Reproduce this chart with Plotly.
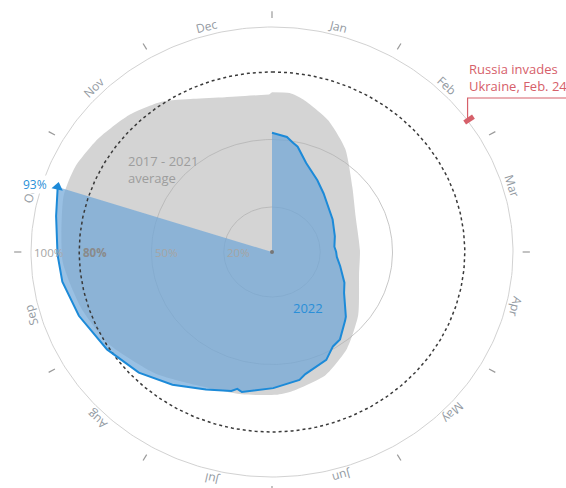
import numpy as np
import plotly.graph_objects as go

# ---------------- data ----------------
# 2017-2021 average EU gas storage fill (%), by day of year (0 = Jan 1)
AVG_DAYS = [0, 6, 11, 22, 34, 50, 67, 90, 107, 130, 146, 160, 175, 181, 194, 211,
            225, 242, 256, 271, 290, 299, 309, 320, 330, 339, 349, 364]
AVG_PCT = [71, 71, 69, 63, 55, 44, 38, 36.5, 37.5, 45.5, 53, 59, 62.5, 63.5, 64.5, 67,
           72.5, 79, 83, 87, 90, 90, 88, 85, 81, 75.5, 71.5, 70]

# 2022 EU gas storage fill (%)
Y22_DAYS = [0, 7, 10, 13, 20, 31, 40, 47, 61, 76, 86, 91, 96, 104, 116, 123, 135,
            137, 146, 151, 157, 168, 171, 182, 194, 196, 198, 207, 218, 229, 241,
            254, 265, 273, 284, 292]
Y22_PCT = [53, 51.5, 49.5, 48, 42, 37, 33.7, 31.5, 29, 27, 26, 26.6, 27, 29, 33, 35, 42,
           43, 48, 49, 53, 56, 58, 60.5, 63.5, 62.5, 64, 67, 72, 77, 81,
           85, 88, 89, 91, 93.5]

MONTHS = ["Jan", "Feb", "Mar", "Apr", "May", "Jun", "Jul", "Aug", "Sep", "Oct", "Nov", "Dec"]
MONTH_LEN = [31, 28, 31, 30, 31, 30, 31, 31, 30, 31, 30, 31]
TICK_ANGLES = [0, 30, 60, 90, 120, 150, 180, 210, 240, 270, 300, 330]
RING_PCTS = [20, 50, 100]
RING_LABELS = ["20%", "50%", "100%"]
TARGET_PCT = 80
TARGET_LABEL = "80%"
INVASION_DAY = 55
END_LABEL = "93%"

# ---------------- geometry helpers ----------------
PX_X, PX_Y = 241.0, 225.0   # pixels per unit radius (chart is slightly elliptical)
CX, CY = 272.0, 252.0
W, H = 566, 488


def xy(pct, day):
    th = np.deg2rad(np.asarray(day, dtype=float) / 365.0 * 360.0)
    r = np.asarray(pct, dtype=float) / 100.0
    return r * np.sin(th), r * np.cos(th)


def xy_deg(r, deg):
    th = np.deg2rad(np.asarray(deg, dtype=float))
    return r * np.sin(th), r * np.cos(th)


full = np.linspace(0, 360, 361)
fig = go.Figure()

# average (gray)
ax, ay = xy(AVG_PCT, AVG_DAYS)
fig.add_trace(go.Scatter(x=ax, y=ay, fill="toself", fillcolor="#d4d4d4",
                         line=dict(width=0, shape="spline", smoothing=0.6), mode="lines",
                         hoverinfo="skip"))

# rings
for p in RING_PCTS:
    rx, ry = xy_deg(p / 100.0, full)
    fig.add_trace(go.Scatter(x=rx, y=ry, mode="lines",
                             line=dict(color="rgba(175,175,175,0.7)" if p < 100 else "#d2d2d2", width=1),
                             hoverinfo="skip"))

# 2022 fill wedge
bx, by = xy(Y22_PCT, Y22_DAYS)
fig.add_trace(go.Scatter(x=np.concatenate([[0], bx, [0]]), y=np.concatenate([[0], by, [0]]),
                         fill="toself", fillcolor="rgba(110,165,215,0.7)",
                         line=dict(width=0), mode="lines", hoverinfo="skip"))

# target ring 80%
tx, ty = xy_deg(TARGET_PCT / 100.0, full)
fig.add_trace(go.Scatter(x=tx, y=ty, mode="lines",
                         line=dict(color="#3a3a3a", width=1.5, dash="dot"), hoverinfo="skip"))

# 2022 line
fig.add_trace(go.Scatter(x=bx, y=by, mode="lines", line=dict(color="#1c8ad8", width=2),
                         hoverinfo="skip"))
# arrow at end
fig.add_trace(go.Scatter(x=[bx[-1]], y=[by[-1]], mode="markers",
                         marker=dict(symbol="triangle-up", size=10, color="#1c8ad8", angle=12),
                         hoverinfo="skip"))

# ticks
tkx, tky = [], []
for a in TICK_ANGLES:
    x0, y0 = xy_deg(1.04, a)
    x1, y1 = xy_deg(1.07, a)
    tkx += [x0, x1, None]
    tky += [y0, y1, None]
fig.add_trace(go.Scatter(x=tkx, y=tky, mode="lines", line=dict(color="#9a9a9a", width=1.2),
                         hoverinfo="skip"))

# center dot
fig.add_trace(go.Scatter(x=[0], y=[0], mode="markers", marker=dict(size=4, color="#777777"),
                         hoverinfo="skip"))

# invasion marker
inv_deg = INVASION_DAY / 365.0 * 360.0
m0 = xy_deg(0.985, inv_deg)
m1 = xy_deg(1.03, inv_deg)
fig.add_trace(go.Scatter(x=[m0[0], m1[0]], y=[m0[1], m1[1]], mode="lines",
                         line=dict(color="#d6606a", width=5), hoverinfo="skip"))
mc = xy_deg(1.0, inv_deg)
lead_y = (CY - 98) / PX_Y
right_x = (W - CX) / PX_X
fig.add_trace(go.Scatter(x=[mc[0], mc[0], right_x], y=[mc[1], lead_y, lead_y], mode="lines",
                         line=dict(color="#d6606a", width=1.2), hoverinfo="skip"))

annotations = []
FONT = "Open Sans, Noto Sans, sans-serif"

# month labels
start = 0
for name, ln in zip(MONTHS, MONTH_LEN):
    mid = start + ln / 2.0
    start += ln
    deg = mid / 365.0 * 360.0
    th = np.deg2rad(deg)
    lx, ly = xy_deg(1.038, deg)
    ang = np.degrees(np.arctan2(PX_Y * np.sin(th), PX_X * np.cos(th)))
    annotations.append(dict(x=lx, y=ly, text=name, showarrow=False, textangle=ang,
                            font=dict(size=12, color="#939aa2", family=FONT),
                            xanchor="center", yanchor="middle", borderpad=0))

# ring labels
for p, lab in zip(RING_PCTS, RING_LABELS):
    annotations.append(dict(x=-p / 100.0, y=0, text=lab, showarrow=False, xanchor="left",
                            yanchor="middle", xshift=1,
                            font=dict(size=11.5, color="#a5a5a5", family=FONT)))
annotations.append(dict(x=-TARGET_PCT / 100.0, y=0, text="<b>" + TARGET_LABEL + "</b>",
                        showarrow=False, xanchor="left", yanchor="middle", xshift=2,
                        font=dict(size=11.5, color="#8a8a8a", family=FONT)))

# end label
annotations.append(dict(x=bx[-1], y=by[-1], text=END_LABEL, showarrow=False, xanchor="right",
                        yanchor="middle", xshift=-10, yshift=2, bgcolor="white", borderpad=0,
                        font=dict(size=12, color="#2a8fd8", family=FONT)))

# series labels
annotations.append(dict(x=(308 - CX) / PX_X, y=(CY - 308) / PX_Y, text="2022", showarrow=False,
                        font=dict(size=13, color="#2a8fd8", family=FONT)))
annotations.append(dict(x=(126 - CX) / PX_X, y=(CY - 169) / PX_Y, text="2017 - 2021<br>average",
                        showarrow=False, xanchor="left", yanchor="middle", align="left",
                        font=dict(size=13, color="#9d9d9d", family=FONT)))

# invasion label
annotations.append(dict(x=mc[0], y=lead_y, text="Russia invades<br>Ukraine, Feb. 24",
                        showarrow=False, xanchor="left", yanchor="bottom", align="left",
                        xshift=-1, yshift=1,
                        font=dict(size=13, color="#d6606a", family=FONT)))

fig.update_layout(
    width=W, height=H, autosize=False,
    margin=dict(l=0, r=0, t=0, b=0),
    paper_bgcolor="white", plot_bgcolor="white",
    showlegend=False,
    xaxis=dict(range=[-CX / PX_X, (W - CX) / PX_X], visible=False, fixedrange=True),
    yaxis=dict(range=[(CY - H) / PX_Y, CY / PX_Y], visible=False, fixedrange=True),
    annotations=annotations,
)

fig.write_html("out.html", config={"displayModeBar": False},
               post_script="document.body.style.margin='0';")
